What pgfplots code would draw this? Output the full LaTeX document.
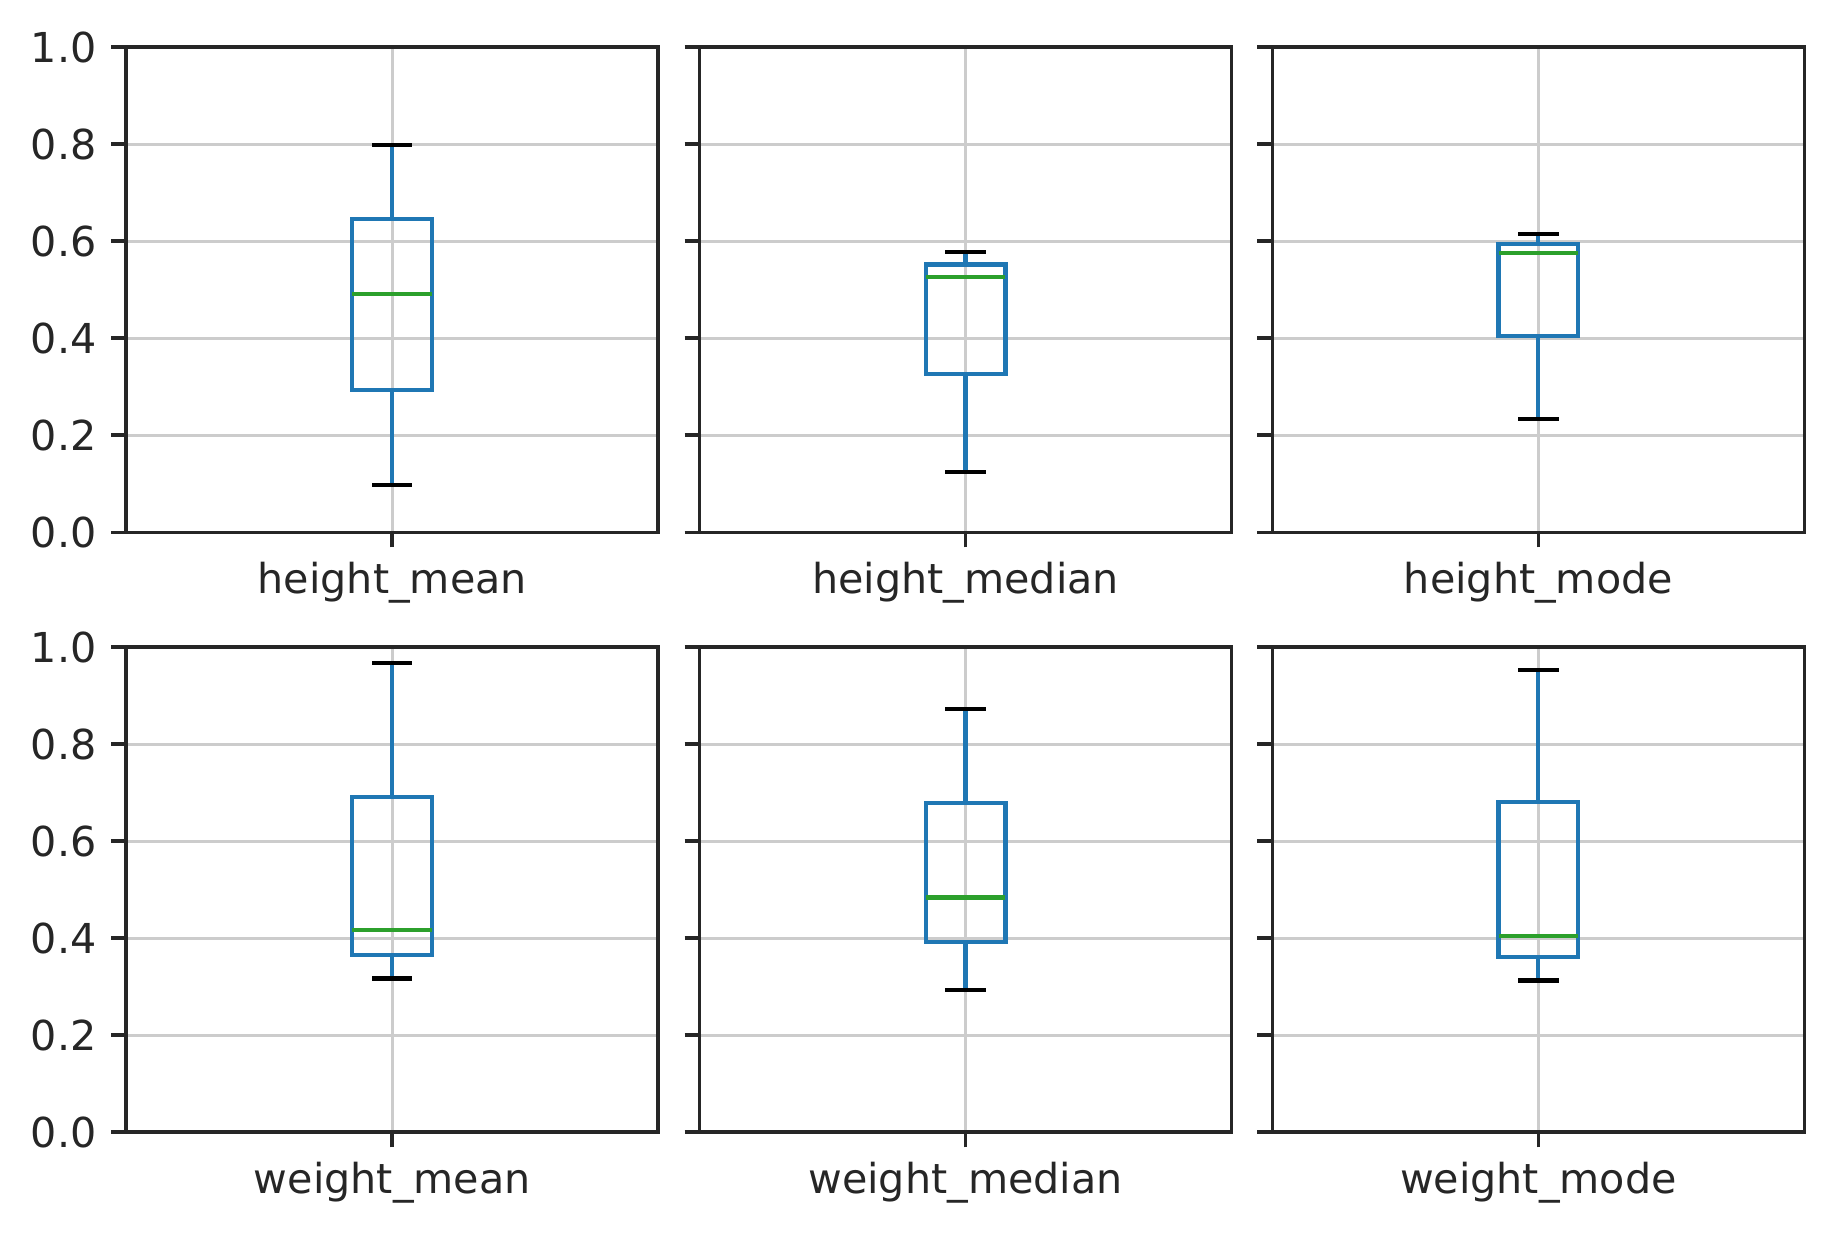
\documentclass[border=0pt]{standalone}
\usepackage{fontspec}
\setmainfont{DejaVu Sans}
\usepackage{pgfplots}
\pgfplotsset{compat=1.18}
\usepgfplotslibrary{statistics}
\definecolor{mplblue}{HTML}{1F77B4}
\definecolor{mplgreen}{HTML}{2CA02C}
\definecolor{axgray}{HTML}{262626}
\definecolor{gridgray}{HTML}{CCCCCC}
\pgfplotsset{
  panel/.style={
    scale only axis, width=127.7pt, height=116.5pt,
    xmin=0.5, xmax=1.5, ymin=0, ymax=1,
    xtick={1}, ytick={0,0.2,0.4,0.6,0.8,1.0},
    tick align=outside, major tick length=3.6pt,
    tick style={axgray, line width=0.9pt},
    xtick pos=left, ytick pos=left,
    axis line style={axgray, line width=0.9pt},
    grid=major, major grid style={gridgray, line width=0.75pt},
    tick label style={font=\fontsize{9.9}{12}\selectfont, text=axgray},
    /pgf/number format/assume math mode=true,
    anchor=south west,
    boxplot/draw direction=y,
    boxplot/box extend=0.15,
    boxplot/whisker extend=0.076,
    boxplot/every box/.style={draw=mplblue, line width=1pt},
    boxplot/every median/.style={draw=mplgreen, line width=1pt},
    boxplot/draw/whisker/.code 2 args={
      \draw[mplblue, line width=1pt] (boxplot cs:##1) -- (boxplot cs:##2);
      \draw[black, line width=1pt] (boxplot whisker cs:##2,0) -- (boxplot whisker cs:##2,1);
    },
  },
  ylab/.style={yticklabels={0.0,0.2,0.4,0.6,0.8,1.0}},
  nolab/.style={yticklabels={}},
}
\begin{document}
\begin{tikzpicture}
\useasboundingbox (0,0) rectangle (440.2pt,296.2pt);
% top row
\begin{axis}[panel, ylab, at={(30.3pt,168.4pt)}, xticklabels={height\_mean}]
\addplot[boxplot prepared={draw position=1, lower whisker=0.097, lower quartile=0.294, median=0.491, upper quartile=0.646, upper whisker=0.798}] coordinates {};
\end{axis}
\begin{axis}[panel, nolab, at={(167.9pt,168.4pt)}, xticklabels={height\_median}]
\addplot[boxplot prepared={draw position=1, lower whisker=0.124, lower quartile=0.326, median=0.526, upper quartile=0.552, upper whisker=0.578}] coordinates {};
\end{axis}
\begin{axis}[panel, nolab, at={(305.4pt,168.4pt)}, xticklabels={height\_mode}]
\addplot[boxplot prepared={draw position=1, lower whisker=0.233, lower quartile=0.404, median=0.576, upper quartile=0.595, upper whisker=0.615}] coordinates {};
\end{axis}
% bottom row
\begin{axis}[panel, ylab, at={(30.3pt,24.4pt)}, xticklabels={weight\_mean}]
\addplot[boxplot prepared={draw position=1, lower whisker=0.317, lower quartile=0.365, median=0.417, upper quartile=0.691, upper whisker=0.967}] coordinates {};
\end{axis}
\begin{axis}[panel, nolab, at={(167.9pt,24.4pt)}, xticklabels={weight\_median}]
\addplot[boxplot prepared={draw position=1, lower whisker=0.294, lower quartile=0.392, median=0.484, upper quartile=0.679, upper whisker=0.872}] coordinates {};
\end{axis}
\begin{axis}[panel, nolab, at={(305.4pt,24.4pt)}, xticklabels={weight\_mode}]
\addplot[boxplot prepared={draw position=1, lower whisker=0.313, lower quartile=0.361, median=0.405, upper quartile=0.681, upper whisker=0.953}] coordinates {};
\end{axis}
\end{tikzpicture}
\end{document}
